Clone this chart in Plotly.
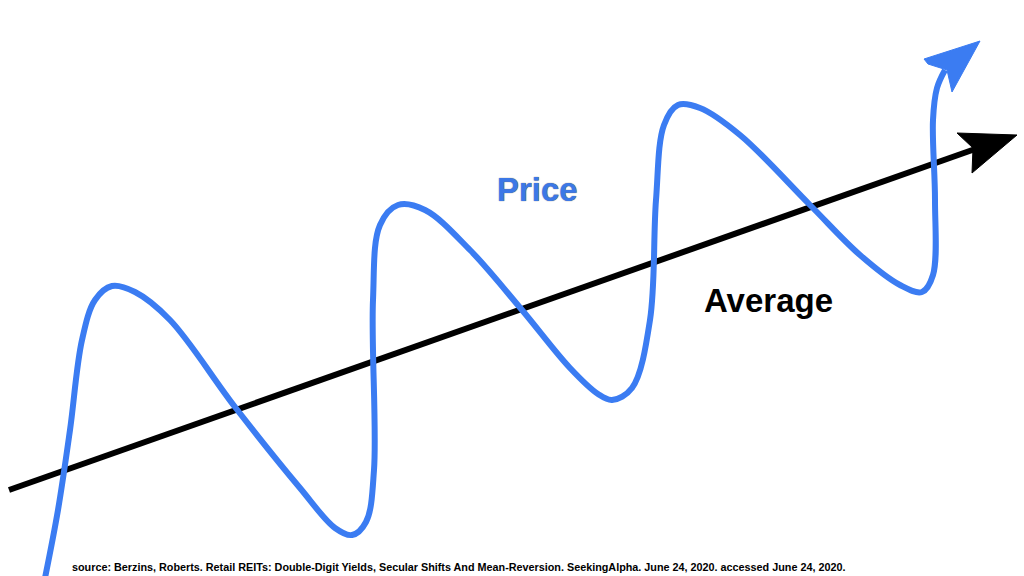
import plotly.graph_objects as go

# Price path (schematic units: x = time, y = level, screen-like orientation)
price_x = [45, 58, 70, 82, 95, 112, 135, 170, 235, 300, 335, 352, 366, 374, 373, 380, 398, 425, 470, 522, 570, 598, 612, 632, 650, 656, 664, 678, 700, 740, 810, 860, 900, 922, 933, 935, 933, 937, 945]
price_y = [578, 510, 430, 340, 300, 286, 292, 320, 407, 488, 528, 535, 522, 470, 300, 225, 205, 210, 250, 310, 368, 394, 400, 388, 320, 200, 125, 105, 108, 135, 205, 255, 285, 292, 275, 200, 120, 88, 70]

# Average trend line
avg_x = [9, 978]
avg_y = [490, 148]

# Arrowheads
price_head_x = [980, 924, 928, 947, 952, 980]
price_head_y = [41, 59, 64, 70, 92, 41]
avg_head_x = [1017, 957, 973, 972, 1017]
avg_head_y = [135, 133, 148, 173, 135]

BLUE = "#3B7CF2"

fig = go.Figure()
fig.add_trace(go.Scatter(x=avg_x, y=avg_y, mode="lines",
                         line=dict(color="black", width=6), hoverinfo="skip"))
fig.add_trace(go.Scatter(x=avg_head_x, y=avg_head_y, mode="lines", fill="toself",
                         fillcolor="black", line=dict(color="black", width=1), hoverinfo="skip"))
fig.add_trace(go.Scatter(x=price_x, y=price_y, mode="lines",
                         line=dict(color=BLUE, width=6, shape="spline", smoothing=1.0),
                         hoverinfo="skip"))
fig.add_trace(go.Scatter(x=price_head_x, y=price_head_y, mode="lines", fill="toself",
                         fillcolor=BLUE, line=dict(color=BLUE, width=1), hoverinfo="skip"))

fig.add_annotation(x=537, y=189, text="<b>Price</b>", showarrow=False,
                   font=dict(family="Liberation Sans, Arial", size=33, color="#3C78E6",
                             shadow="0px 0px 1px #444"),
                   xanchor="center", yanchor="middle")
fig.add_annotation(x=768, y=300, text="<b>Average</b>", showarrow=False,
                   font=dict(family="Liberation Sans, Arial", size=33, color="black"),
                   xanchor="center", yanchor="middle")
fig.add_annotation(x=70, y=567,
                   text="<b>source: Berzins, Roberts. Retail REITs: Double-Digit Yields, Secular Shifts And Mean-Reversion. SeekingAlpha. June 24, 2020. accessed June 24, 2020.</b>",
                   showarrow=False,
                   font=dict(family="Liberation Sans, Arial", size=10.8, color="black"),
                   xanchor="left", yanchor="middle")

fig.update_layout(
    width=1024, height=576,
    margin=dict(l=0, r=0, t=0, b=0),
    paper_bgcolor="white", plot_bgcolor="white",
    showlegend=False,
    xaxis=dict(range=[0, 1024], visible=False, fixedrange=True),
    yaxis=dict(range=[576, 0], visible=False, fixedrange=True),
)
fig.write_html("out.html", config={"displayModeBar": False},
               post_script="document.body.style.margin='0';document.body.style.overflow='hidden';")
